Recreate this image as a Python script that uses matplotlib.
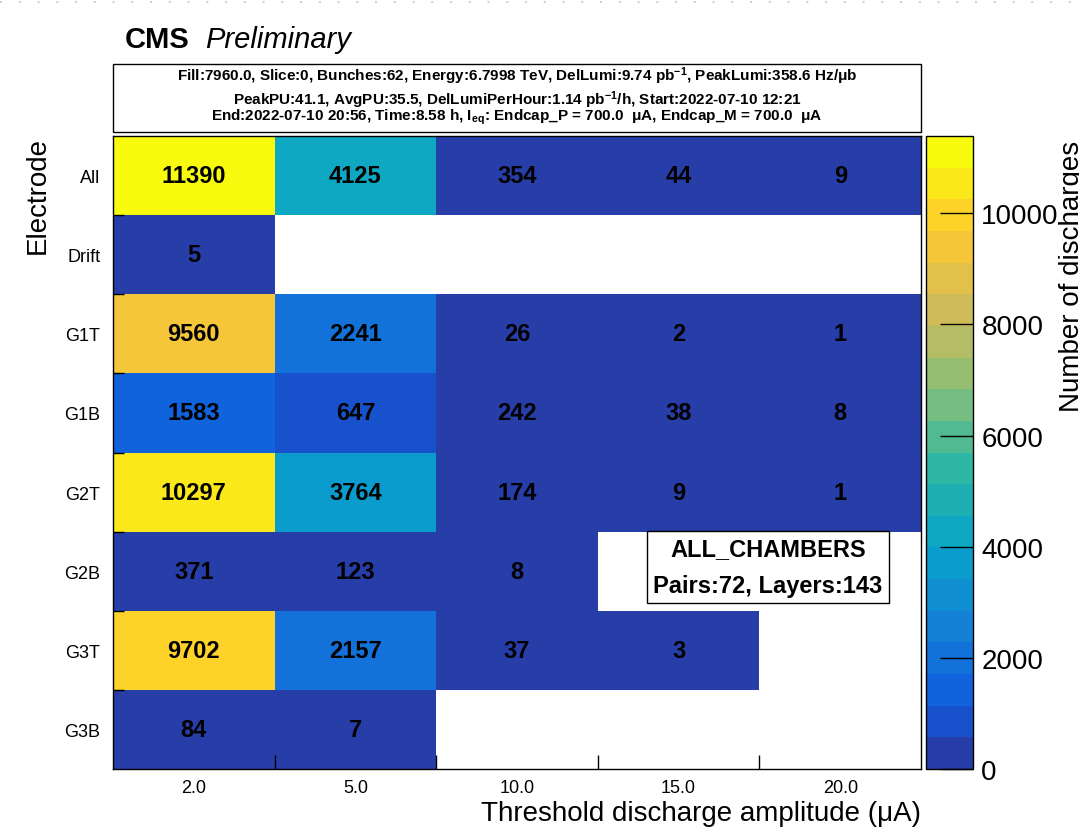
import numpy as np
import matplotlib
matplotlib.use("Agg")
import matplotlib.pyplot as plt
from matplotlib.colors import LinearSegmentedColormap, ListedColormap, BoundaryNorm
from matplotlib.patches import Rectangle
from matplotlib.lines import Line2D

# Discharge counts per electrode (rows) and threshold (columns); 0 = no entry
electrodes = ['All', 'Drift', 'G1T', 'G1B', 'G2T', 'G2B', 'G3T', 'G3B']
thresholds = ['2.0', '5.0', '10.0', '15.0', '20.0']
counts_all = [11390, 4125, 354, 44, 9]
counts_drift = [5, 0, 0, 0, 0]
counts_g1t = [9560, 2241, 26, 2, 1]
counts_g1b = [1583, 647, 242, 38, 8]
counts_g2t = [10297, 3764, 174, 9, 1]
counts_g2b = [371, 123, 8, 0, 0]
counts_g3t = [9702, 2157, 37, 3, 0]
counts_g3b = [84, 7, 0, 0, 0]

zmax = 11390
n_contours = 20
cbar_ticks = [0, 2000, 4000, 6000, 8000, 10000]

info_lines = [
    r'Fill:7960.0, Slice:0, Bunches:62, Energy:6.7998 TeV, DelLumi:9.74 pb$^{\mathbf{-1}}$, PeakLumi:358.6 Hz/μb',
    r'PeakPU:41.1, AvgPU:35.5, DelLumiPerHour:1.14 pb$^{\mathbf{-1}}$/h, Start:2022-07-10 12:21',
    r'End:2022-07-10 20:56, Time:8.58 h, I$_{\mathbf{eq}}$: Endcap_P = 700.0  μA, Endcap_M = 700.0  μA',
]

plt.rcParams['font.family'] = ['Liberation Sans', 'DejaVu Sans']
plt.rcParams['mathtext.fontset'] = 'custom'
plt.rcParams['mathtext.rm'] = 'Liberation Sans'
plt.rcParams['mathtext.it'] = 'Liberation Sans:italic'
plt.rcParams['mathtext.bf'] = 'Liberation Sans:bold'

W, H = 1079, 828

def px_rect(x0, y0, x1, y1):
    # pixel box (top-left origin) -> figure fraction rect
    return [x0 / W, 1 - y1 / H, (x1 - x0) / W, (y1 - y0) / H]

# ROOT "kBird" palette
stops = [0.0, 0.125, 0.25, 0.375, 0.5, 0.625, 0.75, 0.875, 1.0]
red = [0.2082, 0.0592, 0.0780, 0.0232, 0.1802, 0.5301, 0.8186, 0.9956, 0.9764]
green = [0.1664, 0.3599, 0.5041, 0.6419, 0.7178, 0.7492, 0.7328, 0.7862, 0.9832]
blue = [0.5293, 0.8684, 0.8385, 0.7914, 0.6425, 0.4662, 0.3499, 0.1968, 0.0539]
bird = LinearSegmentedColormap.from_list(
    'bird', [(s, (r, g, b)) for s, r, g, b in zip(stops, red, green, blue)])
cmap = ListedColormap([bird((i + 0.99) / n_contours) for i in range(n_contours)])
levels = np.linspace(0, zmax, n_contours + 1)
norm = BoundaryNorm(levels, cmap.N)

z = np.array([counts_all, counts_drift, counts_g1t, counts_g1b,
              counts_g2t, counts_g2b, counts_g3t, counts_g3b], dtype=float)
z_plot = np.where(z > 0, z, np.nan)

fig = plt.figure(figsize=(W / 100, H / 100), dpi=100)
ax = fig.add_axes(px_rect(113, 137, 921, 770))
cax = fig.add_axes(px_rect(926, 137, 973, 770))

nx, ny = len(thresholds), len(electrodes)
mesh = ax.pcolormesh(np.arange(nx + 1), np.arange(ny + 1), z_plot, cmap=cmap, norm=norm)
ax.set_xlim(0, nx)
ax.set_ylim(ny, 0)

for i in range(ny):
    for j in range(nx):
        if z[i, j] > 0:
            ax.text(j + 0.5, i + 0.5, f'{int(z[i, j])}', ha='center', va='center',
                    fontsize=17, fontweight='bold', color='black')

ax.set_xticks(np.arange(nx) + 0.5)
ax.set_xticklabels(thresholds, fontsize=13)
ax.set_yticks(np.arange(ny) + 0.5)
ax.set_yticklabels(electrodes, fontsize=13)
ax.tick_params(axis='both', which='major', length=0)
ax.tick_params(axis='x', pad=7)
ax.tick_params(axis='y', pad=9)
ax.set_xticks(np.arange(1, nx), minor=True)
ax.set_yticks(np.arange(1, ny), minor=True)
ax.tick_params(axis='x', which='minor', direction='in', length=10, width=1, bottom=True)
ax.tick_params(axis='y', which='minor', direction='in', length=8, width=1, left=True)
for sp in ax.spines.values():
    sp.set_linewidth(1)

fig.text(921 / W, 1 - 821 / H, 'Threshold discharge amplitude (μA)', ha='right', va='baseline',
         fontsize=20)
fig.text(38 / W, 1 - 137 / H, 'Electrode', rotation=90, ha='center', va='top', fontsize=20)

# colour scale
cb = fig.colorbar(mesh, cax=cax, ticks=cbar_ticks)
cb.outline.set_linewidth(1)
cax.tick_params(axis='y', direction='in', length=24, width=1, labelsize=20, pad=6)
cax.minorticks_off()
fig.text(1059 / W, 1 - 412 / H, 'Number of discharges', rotation=90, ha='left', va='bottom',
         fontsize=20)

# header
fig.text(125 / W, 1 - 48 / H, 'CMS', fontsize=21, fontweight='bold', va='baseline')
fig.text(205 / W, 1 - 48 / H, 'Preliminary', fontsize=21, style='italic', va='baseline')

fig.add_artist(Rectangle((113 / W, 1 - 133 / H), 808 / W, 68 / H, transform=fig.transFigure,
                         facecolor='white', edgecolor='black', linewidth=1))
for txt, yb in zip(info_lines, [81, 105, 121]):
    fig.text(517 / W, 1 - yb / H, txt, ha='center', va='baseline', fontsize=11,
             fontweight='bold')

# chamber summary box
ax.text((768 - 113) / 808, (770 - 568) / 633, 'ALL_CHAMBERS\nPairs:72, Layers:143',
        transform=ax.transAxes, ha='center', va='center', fontsize=17, fontweight='bold',
        linespacing=1.75,
        bbox=dict(boxstyle='square,pad=0.25', facecolor='white', edgecolor='black', linewidth=1))

# dotted page edge
fig.add_artist(Line2D([0, 1], [1 - 3 / H, 1 - 3 / H], transform=fig.transFigure,
                      color='#c6d3ea', linewidth=1.5, linestyle=(0, (1, 8))))

fig.savefig('out.png', dpi=100)
